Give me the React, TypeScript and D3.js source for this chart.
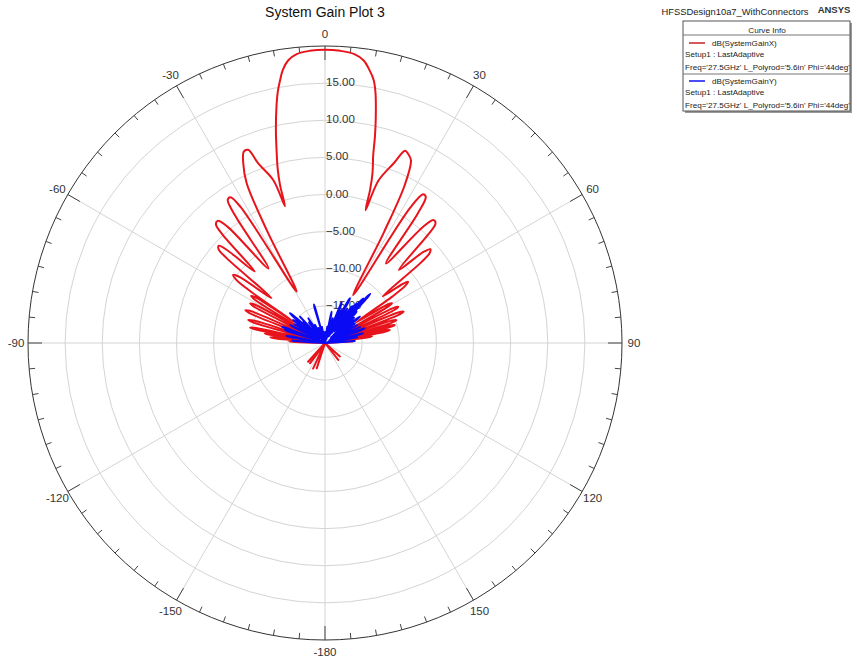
import React, { useEffect, useRef } from 'react';
import * as d3 from 'd3';

// [theta (deg), gain (dB)]
const gainX: [number, number][] = [
  [-180, -25],
  [-166, -25], [-162, -16.4], [-159, -25],
  [-157, -22], [-155, -16.2], [-152, -25],
  [-146, -22], [-143.5, -16.6], [-141, -23], [-138, -16.6], [-135, -25],
  [-100, -25], [-90, -21],
  [-88.3, -16], [-87.6, -15.2], [-86.9, -16.2], [-85.6, -20],
  [-84.6, -13.4], [-84, -12.6], [-83.3, -13.5], [-82.2, -19],
  [-81.6, -12.5], [-81, -11.8], [-80.4, -12.6], [-79.6, -17.5],
  [-79, -10.4], [-78.4, -9.7], [-77.7, -10.5], [-76.2, -18],
  [-74, -9.9], [-73.3, -9.2], [-72.5, -9.9], [-70.5, -18],
  [-68.4, -9], [-67.6, -8.4], [-66.8, -9], [-65, -18],
  [-62.9, -9.3], [-62.1, -8.6], [-61.3, -9.2], [-59.8, -17],
  [-58.3, -8.9], [-57.5, -8.2], [-56.7, -8.8], [-55.8, -15],
  [-55.3, -8], [-54.5, -5.3], [-53.4, -4.6], [-52.3, -5.5], [-50, -10.6],
  [-49.2, -2.5], [-48.6, -0.9], [-47.5, -0.6], [-46.5, -1.8], [-44.5, -6.5],
  [-43.4, 0], [-42.6, 1.7], [-41.3, 1.9], [-40, 0.5], [-37.2, -7.4],
  [-35.2, 1.0], [-34.2, 3.3], [-33, 3.4], [-31.8, 1.5], [-28.9, -12.1],
  [-27.3, -2.9], [-26.1, 4.0], [-24.45, 6.6], [-23, 8.0], [-21.7, 8.0], [-20.4, 5.8], [-17.6, 3.0], [-16.3, -0.8],
  [-15.9, 2.1], [-15.2, 4.3], [-14.4, 6.1], [-13.0, 9.4], [-11.6, 12.5], [-10.6, 14.5], [-9.7, 15.9],
  [-8.8, 17.2], [-7.4, 18.4], [-5.6, 19.1], [-3, 19.4], [0, 19.5],
  [3, 19.4], [5.8, 19.1], [7.8, 18.4], [9.3, 17.2], [10.5, 16.0], [11.4, 14.4], [12.7, 11.1],
  [13.6, 8.6], [14.4, 6.1], [15.6, 3.8], [16.4, 1.5], [17, -1.3],
  [18.2, 3.0], [21, 6.0], [22.6, 8.05], [23.8, 7.8], [25.2, 7.2], [26.8, 3.8], [28, -3], [30.5, -12.5],
  [32.2, 1.5], [33.4, 4.0], [34.6, 3.9], [35.6, 1.5], [37.5, -6.5],
  [40.2, 0.5], [41.5, 2.1], [42.8, 1.9], [43.6, 0], [45.3, -6],
  [47.2, -2], [48.3, -1.0], [49.3, -1.4], [50, -3], [51, -10],
  [52.8, -6.8], [53.6, -6.1], [54.5, -6.7], [55.4, -9], [56.5, -15],
  [58.4, -10.1], [59.2, -9.5], [60, -10.2], [61.4, -17],
  [62.9, -9.6], [63.7, -9.0], [64.5, -9.6], [65.9, -17],
  [67.4, -9.2], [68.2, -8.6], [69, -9.3], [70.4, -17.5],
  [71.4, -10.5], [72.2, -9.9], [73, -10.5], [74.2, -18],
  [74.9, -10.9], [75.6, -10.3], [76.3, -11], [77.4, -18],
  [78.1, -11.7], [78.7, -11.1], [79.4, -11.8], [80.6, -19],
  [81.4, -14.2], [82, -13.6], [82.7, -14.3], [84, -20],
  [85.4, -16.6], [86, -16], [86.7, -16.7], [88, -21],
  [100, -25],
  [128, -24], [132, -17.3], [135, -24], [139, -22], [142, -17.1], [145, -25],
  [180, -25],
];

const gainY: [number, number][] = [
  [-180, -25], [-100, -25], [-90, -21],
  [-86, -15.6], [-84.5, -20],
  [-80.2, -15.2], [-79.6, -14.7], [-79, -15.3], [-77, -20],
  [-72.5, -14.8], [-72, -14.3], [-71.4, -14.9], [-70.6, -19],
  [-69.9, -14.3], [-69.4, -13.8], [-68.8, -14.4], [-66, -20],
  [-63.3, -15.2], [-62.8, -14.7], [-62.2, -15.2], [-60, -19.5],
  [-58, -15.2], [-56.5, -19],
  [-54.5, -15.2], [-54, -14.7], [-53.5, -15.2], [-51.5, -19],
  [-50.2, -14.3], [-49.7, -13.8], [-49.1, -14.3], [-47, -19],
  [-45.5, -15.9], [-44.5, -18],
  [-43.5, -15.1], [-41, -19.5],
  [-38, -16.5], [-36, -19],
  [-34, -16], [-31.5, -19.5],
  [-29, -17.2], [-26, -19.5],
  [-23, -17.8], [-19.5, -20],
  [-16.6, -15.1], [-16.1, -14.6], [-15.6, -15.1], [-13.5, -20],
  [-11, -17.8], [-8.5, -20.5],
  [-6, -18.5], [-2, -21],
  [3, -18.5], [5.5, -20.5],
  [8, -17.8], [10, -20],
  [11.6, -16.2], [12, -15.7], [12.5, -16.2], [14.8, -20],
  [17.5, -16.5], [20, -19.5],
  [22, -14.6], [22.5, -14.1], [23, -14.6], [24.5, -19],
  [26, -15], [27.5, -19],
  [28.7, -13.6], [29.2, -13.1], [29.7, -13.6], [31.2, -19],
  [33, -14.5], [34.5, -18.5],
  [36, -13.8], [37.2, -18],
  [38.2, -13.7], [38.6, -13.2], [39, -13.6], [39.8, -18],
  [40.2, -12.6], [40.6, -12.1], [41, -12.6], [41.8, -17.5],
  [42.2, -11.5], [42.6, -11.0], [43, -11.5], [44, -17.5],
  [44.8, -14.5], [45.3, -14.0], [45.8, -14.5], [47, -19],
  [49, -14.8], [51, -19],
  [52.5, -14.6], [53, -14.1], [53.5, -14.6], [55, -19],
  [57, -15.2], [59, -19.5],
  [61, -15.0], [63, -19.5],
  [65.5, -14.8], [67.5, -19.5],
  [69.3, -14.8], [69.8, -14.3], [70.3, -14.8], [72.5, -19.5],
  [75.3, -15.2], [75.8, -14.7], [76.3, -15.2], [78, -20],
  [80, -15.6], [82, -20],
  [86, -16], [88, -21],
  [100, -25], [180, -25],
];

const ringValues = [-15, -10, -5, 0, 5, 10, 15];
const spokeAngles = [0, 30, 60, 90, 120, 150, 180, 210, 240, 270, 300, 330];
const spokeLabels = ['0', '30', '60', '90', '120', '150', '-180', '-150', '-120', '-90', '-60', '-30'];

const legendItems = [
  { name: 'dB(SystemGainX)', color: '#c8202a' },
  { name: 'dB(SystemGainY)', color: '#1010f0' },
];

const FONT = '"Liberation Sans", Arial, sans-serif';

export default function App() {
  const svgRef = useRef<SVGSVGElement>(null);

  useEffect(() => {
    if (!svgRef.current) return;
    const svg = d3.select(svgRef.current);
    svg.selectAll('*').remove();

    const cx = 325;
    const cy = 343;
    const R = 297;

    const r = d3.scaleLinear().domain([-20, 20]).range([0, R]).clamp(true);
    const rad = (deg: number) => (deg * Math.PI) / 180;

    svg.append('rect').attr('width', 857).attr('height', 662).attr('fill', '#fff');

    // title
    svg.append('text')
      .attr('x', cx).attr('y', 17)
      .attr('text-anchor', 'middle')
      .attr('font-family', FONT).attr('font-size', 14)
      .attr('fill', '#111')
      .text('System Gain Plot 3');

    const g = svg.append('g').attr('transform', `translate(${cx},${cy})`);

    // grid rings
    g.selectAll('circle.ring')
      .data(ringValues)
      .join('circle')
      .attr('class', 'ring')
      .attr('r', d => r(d))
      .attr('fill', 'none')
      .attr('stroke', '#d4d4d4')
      .attr('stroke-width', 1);

    // spokes
    g.selectAll('line.spoke')
      .data(spokeAngles)
      .join('line')
      .attr('class', 'spoke')
      .attr('x1', 0).attr('y1', 0)
      .attr('x2', d => R * Math.sin(rad(d)))
      .attr('y2', d => -R * Math.cos(rad(d)))
      .attr('stroke', '#d4d4d4')
      .attr('stroke-width', 1);

    // outer circle
    g.append('circle')
      .attr('r', R)
      .attr('fill', 'none')
      .attr('stroke', '#333')
      .attr('stroke-width', 1);

    // ticks every 5 deg
    const ticks = d3.range(0, 360, 5);
    g.selectAll('line.tick')
      .data(ticks)
      .join('line')
      .attr('class', 'tick')
      .attr('x1', d => R * Math.sin(rad(d)))
      .attr('y1', d => -R * Math.cos(rad(d)))
      .attr('x2', d => (R - (d % 30 === 0 ? 14 : 6)) * Math.sin(rad(d)))
      .attr('y2', d => -(R - (d % 30 === 0 ? 14 : 6)) * Math.cos(rad(d)))
      .attr('stroke', '#444')
      .attr('stroke-width', 1);

    // angle labels
    g.selectAll('text.alabel')
      .data(spokeAngles)
      .join('text')
      .attr('class', 'alabel')
      .attr('x', d => 309 * Math.sin(rad(d)))
      .attr('y', d => -309 * Math.cos(rad(d)) + 4)
      .attr('text-anchor', 'middle')
      .attr('font-family', FONT).attr('font-size', 11.5)
      .attr('fill', '#333')
      .text((d, i) => spokeLabels[i]);

    // radial labels
    g.selectAll('text.rlabel')
      .data(ringValues)
      .join('text')
      .attr('class', 'rlabel')
      .attr('x', 1)
      .attr('y', d => -r(d) + 3)
      .attr('font-family', FONT).attr('font-size', 11.5)
      .attr('fill', '#333')
      .text(d => d3.format('.2f')(d));

    const line = d3.lineRadial<[number, number]>()
      .angle(d => rad(d[0]))
      .radius(d => r(d[1]))
      .curve(d3.curveCatmullRom.alpha(0.5));

    g.append('path')
      .datum(gainX)
      .attr('d', line)
      .attr('fill', 'none')
      .attr('stroke', '#e8141c')
      .attr('stroke-width', 2)
      .attr('stroke-linejoin', 'round');

    g.append('path')
      .datum(gainY)
      .attr('d', line)
      .attr('fill', 'none')
      .attr('stroke', '#0a0af5')
      .attr('stroke-width', 2)
      .attr('stroke-linejoin', 'round');

    // header texts
    svg.append('text')
      .attr('x', 735).attr('y', 15)
      .attr('text-anchor', 'middle')
      .attr('font-family', FONT).attr('font-size', 9.4)
      .attr('fill', '#222')
      .text('HFSSDesign10a7_WithConnectors');
    svg.append('text')
      .attr('x', 834).attr('y', 13)
      .attr('text-anchor', 'middle')
      .attr('font-family', FONT).attr('font-size', 9.5)
      .attr('font-weight', 'bold')
      .attr('fill', '#333')
      .text('ANSYS');

    // legend box
    const lg = svg.append('g').attr('transform', 'translate(683,21)');
    lg.append('rect').attr('x', 2).attr('y', 2).attr('width', 167).attr('height', 90).attr('fill', '#999');
    lg.append('rect').attr('width', 167).attr('height', 90).attr('fill', '#fff').attr('stroke', '#555');
    lg.append('text')
      .attr('x', 84).attr('y', 11.5)
      .attr('text-anchor', 'middle')
      .attr('font-family', FONT).attr('font-size', 8.1)
      .attr('fill', '#222')
      .text('Curve Info');
    lg.append('line').attr('x1', 0).attr('x2', 167).attr('y1', 14).attr('y2', 14).attr('stroke', '#777');
    lg.append('line').attr('x1', 0).attr('x2', 167).attr('y1', 53).attr('y2', 53).attr('stroke', '#777');

    legendItems.forEach((item, i) => {
      const y0 = 22 + i * 38;
      lg.append('line')
        .attr('x1', 6).attr('x2', 22).attr('y1', y0).attr('y2', y0)
        .attr('stroke', item.color).attr('stroke-width', 1.5);
      lg.append('text')
        .attr('x', 29).attr('y', y0 + 3)
        .attr('font-family', FONT).attr('font-size', 8.1)
        .attr('fill', '#222')
        .text(item.name);
      lg.append('text')
        .attr('x', 2).attr('y', y0 + 14)
        .attr('font-family', FONT).attr('font-size', 8.1)
        .attr('fill', '#222')
        .text('Setup1 : LastAdaptive');
      lg.append('text')
        .attr('x', 2).attr('y', y0 + 27)
        .attr('font-family', FONT).attr('font-size', 8.1)
        .attr('fill', '#222')
        .text("Freq='27.5GHz' L_Polyrod='5.6in' Phi='44deg'");
    });
  }, []);

  return (
    <svg
      ref={svgRef}
      width={857}
      height={662}
      style={{ position: 'absolute', left: 0, top: 0, display: 'block' }}
    />
  );
}
